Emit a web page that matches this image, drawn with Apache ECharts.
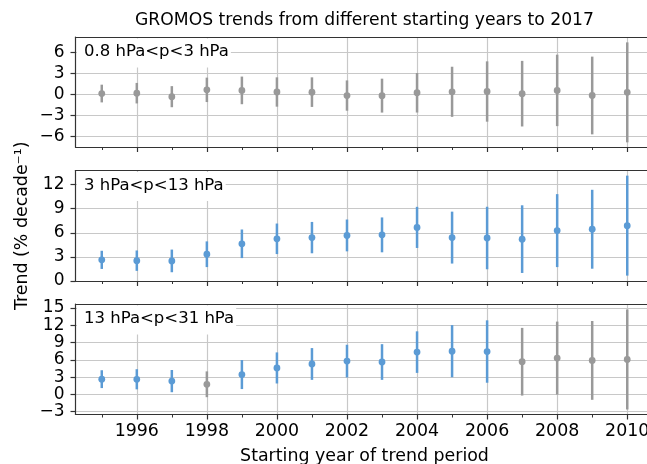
<!DOCTYPE html>
<html>
<head>
<meta charset="utf-8">
<script src="https://cdn.jsdelivr.net/npm/echarts@6/dist/echarts.min.js"></script>
<style>html,body{margin:0;padding:0;background:#fff}#c{width:647px;height:464px}</style>
</head>
<body>
<div id="c"></div>
<script>
const years = [1995,1996,1997,1998,1999,2000,2001,2002,2003,2004,2005,2006,2007,2008,2009,2010];
const xMajorTicks = [1996,1998,2000,2002,2004,2006,2008,2010];
const xMinorTicks = [1995,1997,1999,2001,2003,2005,2007,2009];

const panel1Label = '0.8 hPa<p<3 hPa';
const panel1Trend = [0.1, 0.15, -0.35, 0.63, 0.55, 0.32, 0.3, -0.19, -0.2, 0.21, 0.35, 0.39, 0.08, 0.55, -0.18, 0.27];
const panel1Err   = [1.27, 1.47, 1.51, 1.75, 1.98, 2.1, 2.12, 2.17, 2.43, 2.83, 3.59, 4.32, 4.7, 5.12, 5.57, 7.16];
const panel1Sig   = [0,0,0,0,0,0,0,0,0,0,0,0,0,0,0,0];
const panel1Ticks = [-6,-3,0,3,6];

const panel2Label = '3 hPa<p<13 hPa';
const panel2Trend = [2.63, 2.53, 2.5, 3.33, 4.63, 5.25, 5.4, 5.67, 5.74, 6.67, 5.4, 5.35, 5.21, 6.27, 6.44, 6.89];
const panel2Err   = [1.13, 1.27, 1.41, 1.6, 1.78, 1.9, 1.95, 1.98, 2.17, 2.56, 3.23, 3.89, 4.21, 4.54, 4.91, 6.22];
const panel2Sig   = [1,1,1,1,1,1,1,1,1,1,1,1,1,1,1,1];
const panel2Ticks = [0,3,6,9,12];

const panel3Label = '13 hPa<p<31 hPa';
const panel3Trend = [2.64, 2.62, 2.3, 1.75, 3.44, 4.59, 5.28, 5.78, 5.62, 7.34, 7.5, 7.44, 5.67, 6.3, 5.9, 6.06];
const panel3Err   = [1.55, 1.75, 1.93, 2.24, 2.52, 2.7, 2.76, 2.84, 3.1, 3.61, 4.53, 5.42, 5.88, 6.34, 6.85, 8.69];
const panel3Sig   = [1,1,1,0,1,1,1,1,1,1,1,1,0,0,0,0];
const panel3Ticks = [-3,0,3,6,9,12,15];

const titleText = 'GROMOS trends from different starting years to 2017';
const yName = 'Trend (% decade\u207B\u00B9)';
const xName = 'Starting year of trend period';

const FONT = 'DejaVu Sans';
const SPINE = '#333333';
const GRIDC = '#c8c8c8';
const BLUE = '#5b9bd5';
const GRAY = '#999999';

const grids = [
  {left: 75.5, width: 578, top: 37, height: 110},
  {left: 75.5, width: 578, top: 170.5, height: 110.5},
  {left: 75.5, width: 578, top: 304, height: 110.5}
];
const yRanges = [[-7.56, 8.2], [0, 13.75], [-3.5, 15.7]];
const yTicks = [panel1Ticks, panel2Ticks, panel3Ticks];
const trends = [panel1Trend, panel2Trend, panel3Trend];
const errs = [panel1Err, panel2Err, panel3Err];
const sigs = [panel1Sig, panel2Sig, panel3Sig];
const labels = [panel1Label, panel2Label, panel3Label];

const xAxes = [], yAxes = [], series = [], graphics = [];
grids.forEach((g, i) => {
  g.show = false;
  g.outerBoundsMode = 'none';
  // main bottom axis: spine, major ticks, labels, vertical grid
  xAxes.push({
    type: 'value', gridIndex: i, position: 'bottom', min: 1994.25, max: 2010.75, minInterval: 2, maxInterval: 2,
    axisLine: {show: true, onZero: false, lineStyle: {color: SPINE, width: 1.2}},
    axisTick: {show: true, length: 5, customValues: xMajorTicks, lineStyle: {color: SPINE, width: 1.2}},
    axisLabel: {show: i === 2, customValues: xMajorTicks, margin: 8.5, color: '#000', fontFamily: FONT, fontSize: 17.4,
      showMinLabel: true, showMaxLabel: true, hideOverlap: false, formatter: v => String(v)},
    splitLine: {show: true, lineStyle: {color: GRIDC, width: 1.2}},
    name: i === 2 ? xName : '', nameLocation: 'middle', nameGap: 33,
    nameTextStyle: {color: '#000', fontFamily: FONT, fontSize: 17.4}
  });
  // minor ticks
  xAxes.push({
    type: 'value', gridIndex: i, position: 'bottom', min: 1994.25, max: 2010.75,
    axisLine: {show: false, onZero: false},
    axisTick: {show: true, length: 3, customValues: xMinorTicks, lineStyle: {color: SPINE, width: 1}},
    axisLabel: {show: false},
    splitLine: {show: false}
  });
  // top spine
  xAxes.push({
    type: 'value', gridIndex: i, position: 'top', min: 1994.25, max: 2010.75,
    axisLine: {show: true, onZero: false, lineStyle: {color: SPINE, width: 1.2}},
    axisTick: {show: false}, axisLabel: {show: false}, splitLine: {show: false}
  });
  yAxes.push({
    type: 'value', gridIndex: i, min: yRanges[i][0], max: yRanges[i][1], minInterval: 3, maxInterval: 3,
    axisLine: {show: true, onZero: false, lineStyle: {color: SPINE, width: 1.2}},
    axisTick: {show: true, length: 5, customValues: yTicks[i], lineStyle: {color: SPINE, width: 1.2}},
    axisLabel: {show: true, customValues: yTicks[i], margin: 11, color: '#000', fontFamily: FONT, fontSize: 17,
      hideOverlap: false, formatter: v => (v < 0 ? '\u2212' + Math.abs(v) : String(v))},
    splitLine: {show: true, lineStyle: {color: GRIDC, width: 1.2}},
    name: i === 1 ? yName : '', nameLocation: 'middle', nameGap: 45, nameRotate: 90,
    nameTextStyle: {color: '#000', fontFamily: FONT, fontSize: 17.4}
  });
  series.push({
    type: 'custom', xAxisIndex: i * 3, yAxisIndex: i, z: 5,
    data: years.map((y, k) => [y, trends[i][k], errs[i][k], sigs[i][k]]),
    renderItem: (params, api) => {
      const x = api.value(0), v = api.value(1), e = api.value(2);
      const col = api.value(3) ? BLUE : GRAY;
      const top = api.coord([x, v + e]);
      const bot = api.coord([x, v - e]);
      const c = api.coord([x, v]);
      return {
        type: 'group',
        children: [
          {type: 'line', shape: {x1: top[0], y1: top[1], x2: bot[0], y2: bot[1]}, style: {stroke: col, lineWidth: 2.5}},
          {type: 'circle', shape: {cx: c[0], cy: c[1], r: 3.4}, style: {fill: col}}
        ]
      };
    }
  });
  graphics.push({
    type: 'text', left: 77, top: g.top + 1.5, z: 10,
    style: {text: labels[i], font: '16.5px "DejaVu Sans"', fill: '#000', backgroundColor: '#fff', padding: [5, 2, 7, 7]}
  });
});
graphics.push({
  type: 'text', x: 364.5, y: 12, z: 10,
  style: {text: titleText, font: '17.2px "DejaVu Sans"', fill: '#000', align: 'center', verticalAlign: 'top'}
});

const chart = echarts.init(document.getElementById('c'), null, {renderer: 'canvas'});
chart.setOption({
  animation: false,
  backgroundColor: '#fff',
  grid: grids,
  xAxis: xAxes,
  yAxis: yAxes,
  series: series,
  graphic: graphics
});
</script>
</body>
</html>
